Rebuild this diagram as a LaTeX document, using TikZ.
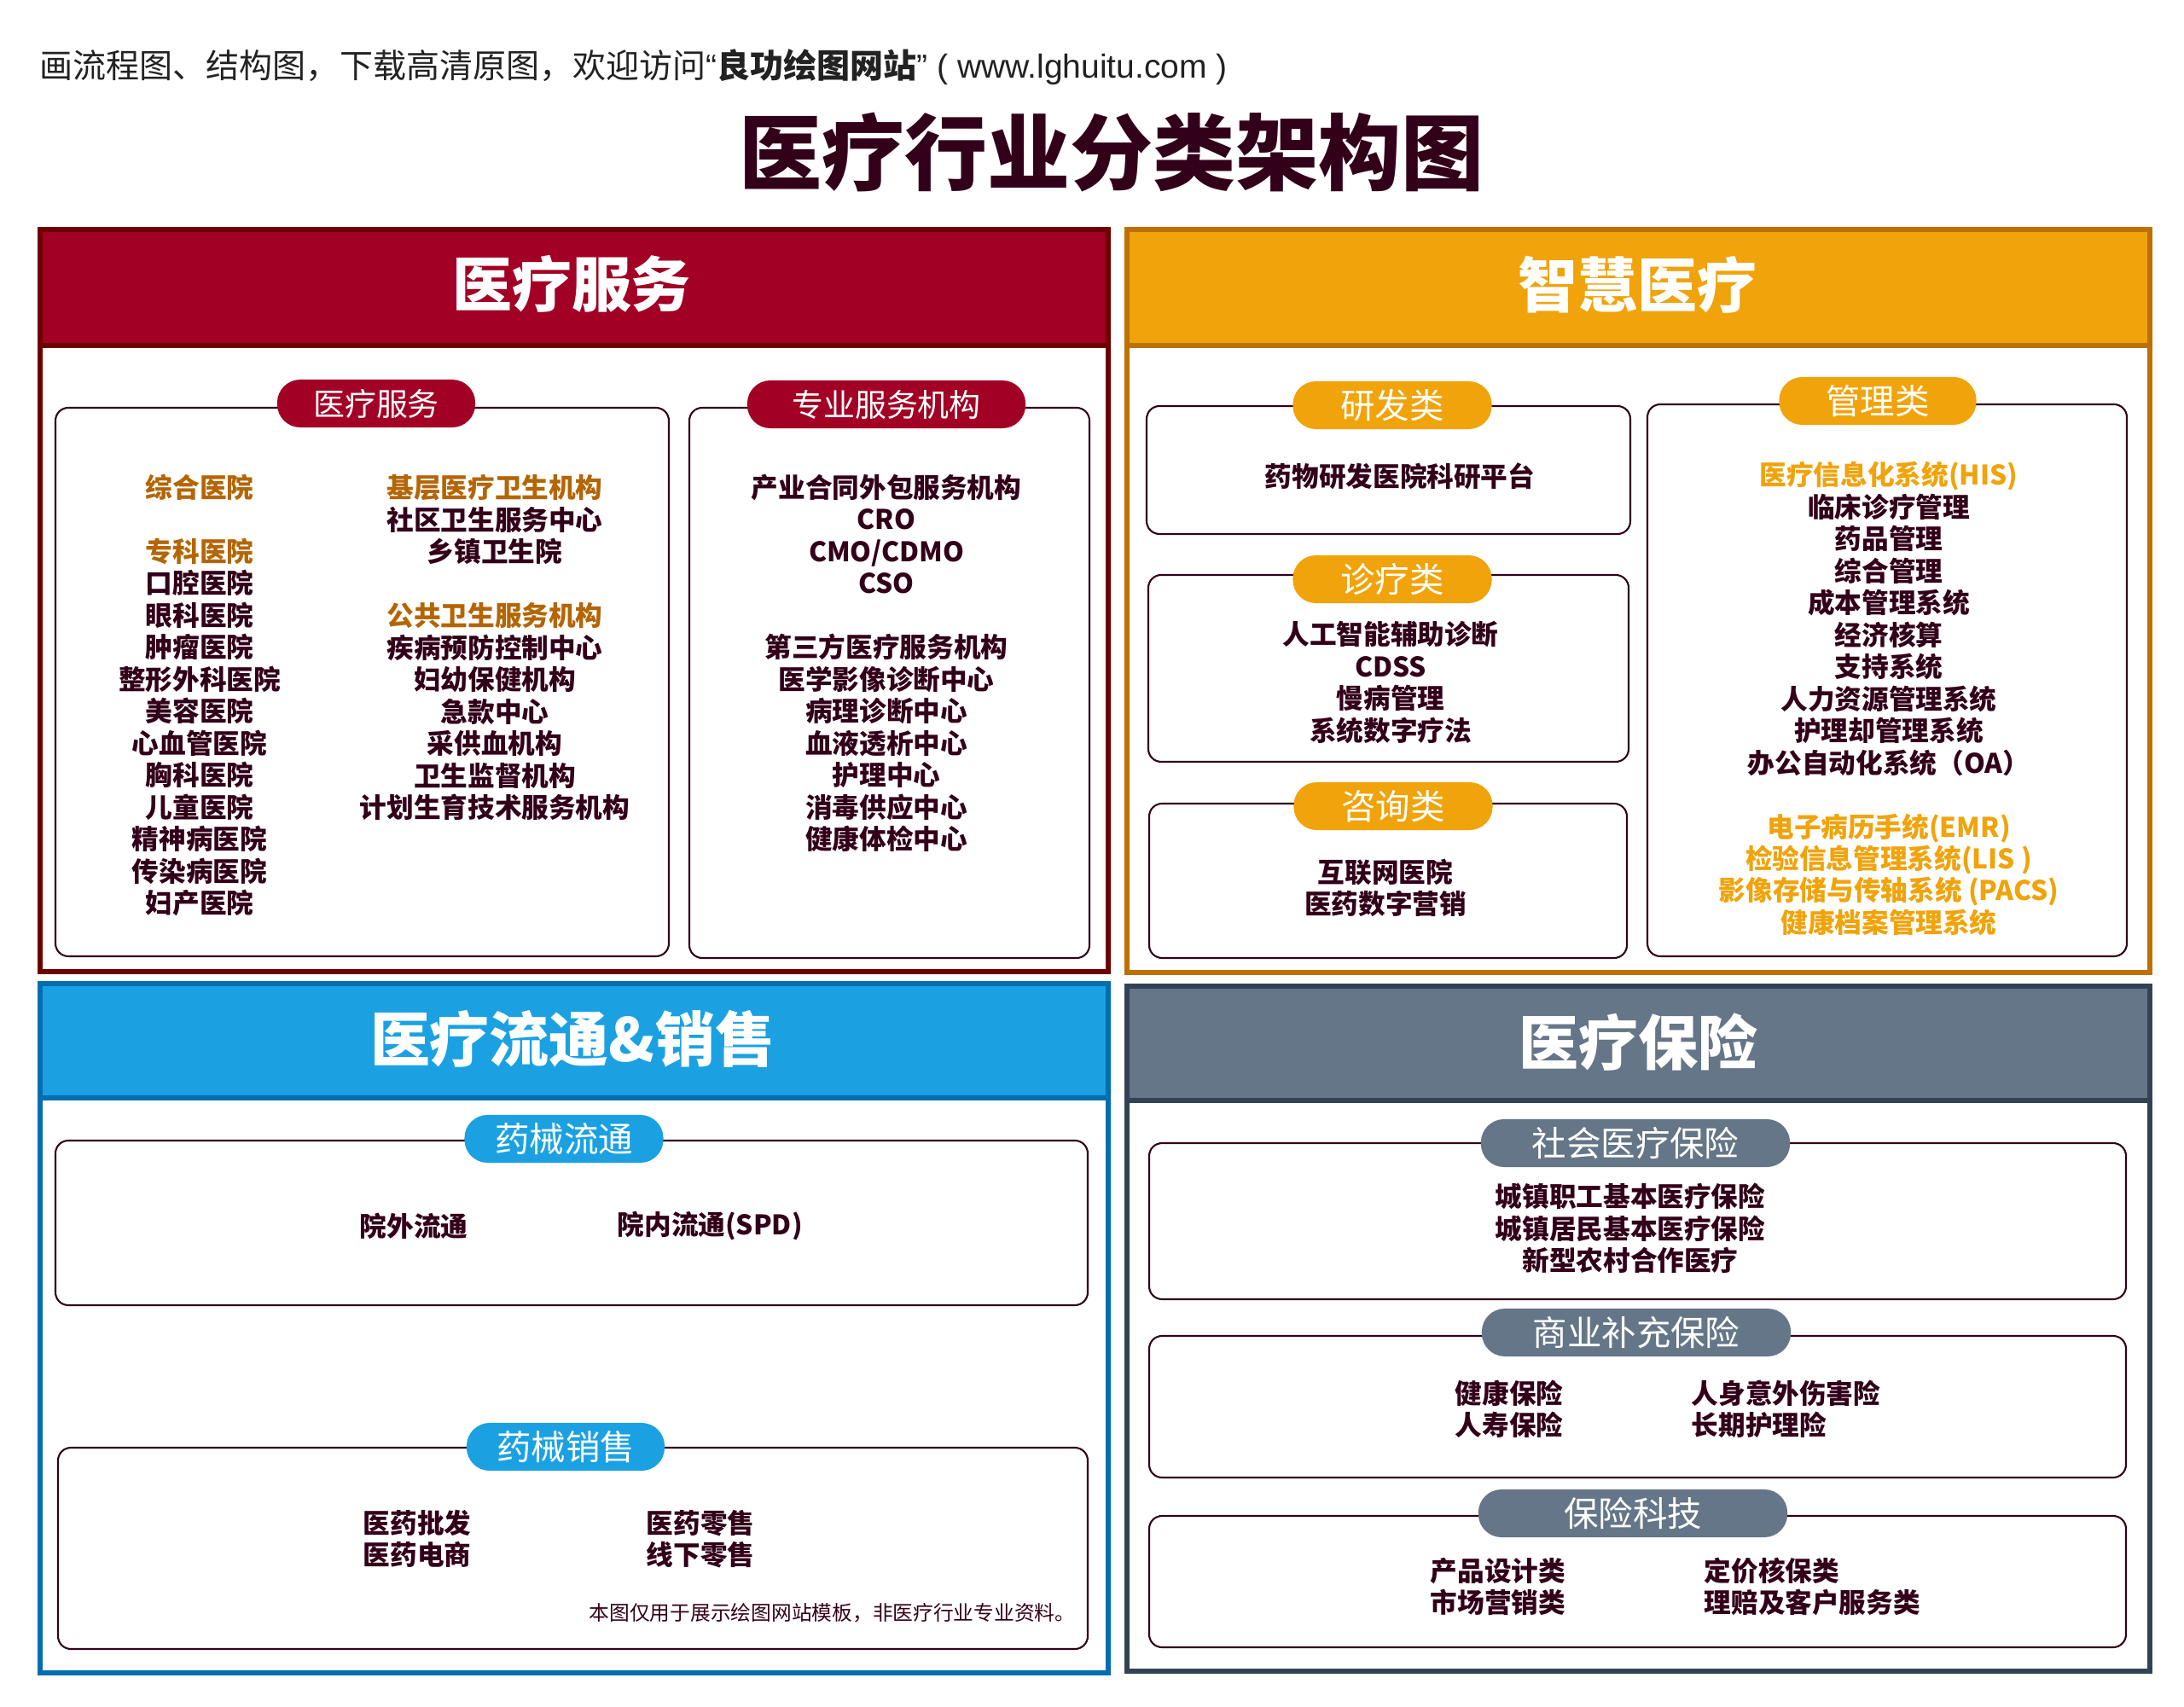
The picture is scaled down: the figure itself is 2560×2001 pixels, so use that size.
\documentclass[tikz,border=0pt]{standalone}
\usepackage{fontspec}
\setmainfont{Noto Sans CJK SC}
\newfontfamily\latinf{Liberation Sans}
\definecolor{ink}{HTML}{33001A}
\definecolor{capink}{HTML}{222222}
\definecolor{redfill}{HTML}{A20025}
\definecolor{redline}{HTML}{6F0000}
\definecolor{orgfill}{HTML}{F0A30A}
\definecolor{orgline}{HTML}{BD7000}
\definecolor{bluefill}{HTML}{1BA1E2}
\definecolor{blueline}{HTML}{006EAF}
\definecolor{slatefill}{HTML}{647687}
\definecolor{slateline}{HTML}{314354}
\definecolor{darkorg}{HTML}{B46504}
\definecolor{brightorg}{HTML}{F0A30A}
\tikzset{
  panelbody/.style={draw=#1, line width=1.7pt, fill=white},
  panelhead/.style={draw=#1, line width=1.7pt},
  headtitle/.style={text=white, font=\bfseries\fontsize{19.9}{22}\selectfont, inner sep=0pt},
  innerbox/.style={draw=ink, line width=0.6pt, rounded corners=4.3pt},
  pill/.style={fill=#1, rounded corners=0.27cm, minimum height=0.56cm, text=white,
    font=\fontsize{11.5}{13}\selectfont, inner sep=0pt},
  redpill/.style={pill=redfill, font=\fontsize{10.5}{12}\selectfont},
  body/.style={text=ink, font=\bfseries\fontsize{9}{10.66}\selectfont, align=center, inner sep=0pt},
  bodyl/.style={text=ink, font=\bfseries\fontsize{9}{10.66}\selectfont, align=left, inner sep=0pt, anchor=west},
}
\newcommand{\dorg}[1]{\textcolor{darkorg}{#1}}
\newcommand{\borg}[1]{\textcolor{brightorg}{#1}}
\begin{document}
\begin{tikzpicture}[x=0.01cm,y=-0.01cm]
\useasboundingbox (0,0) rectangle (2560,2001);
\fill[white] (0,0) rectangle (2560,2001);

% caption and title
\node[anchor=west, text=capink, font=\fontsize{11.1}{13}\selectfont, inner sep=0pt] (caption) at (46,79)
  {画流程图、结构图，下载高清原图，欢迎访问{\latinf “}\textbf{良功绘图网站}{\latinf ”\ ( www.lghuitu.com )}};
\node[text=ink, font=\bfseries\fontsize{27.6}{30}\selectfont, inner sep=0pt] (title) at (1303,178) {医疗行业分类架构图};

% ---------- panel 1: 医疗服务 ----------
\draw[panelbody=redline] (47,405) rectangle (1299,1139);
\draw[panelhead=redline, fill=redfill] (47,269) rectangle (1299,405);
\node[headtitle] (h1) at (670,333) {医疗服务};

\draw[innerbox] (65,478) rectangle (784,1121);
\draw[innerbox] (808,478) rectangle (1277,1123);
\node[redpill, minimum width=2.32cm] (p11) at (441,473) {医疗服务};
\node[redpill, minimum width=3.26cm] (p12) at (1039,474) {专业服务机构};

\node[body] (c11) at (234,815) {\dorg{综合医院}\\[10.66pt]\dorg{专科医院}\\口腔医院\\眼科医院\\肿瘤医院\\整形外科医院\\美容医院\\心血管医院\\胸科医院\\儿童医院\\精神病医院\\传染病医院\\妇产医院};
\node[body] (c12) at (580,759) {\dorg{基层医疗卫生机构}\\社区卫生服务中心\\乡镇卫生院\\[10.66pt]\dorg{公共卫生服务机构}\\疾病预防控制中心\\妇幼保健机构\\急款中心\\采供血机构\\卫生监督机构\\计划生育技术服务机构};
\node[body] (c13) at (1039,777.5) {产业合同外包服务机构\\CRO\\CMO/CDMO\\CSO\\[10.66pt]第三方医疗服务机构\\医学影像诊断中心\\病理诊断中心\\血液透析中心\\护理中心\\消毒供应中心\\健康体检中心};

% ---------- panel 2: 智慧医疗 ----------
\draw[panelbody=orgline] (1321,405) rectangle (2520,1140);
\draw[panelhead=orgline, fill=orgfill] (1321,269) rectangle (2520,405);
\node[headtitle] (h2) at (1919,334) {智慧医疗};

\draw[innerbox] (1344,476) rectangle (1911,626);
\draw[innerbox] (1346,674) rectangle (1909,893);
\draw[innerbox] (1347,942) rectangle (1907,1123);
\draw[innerbox] (1931,474) rectangle (2493,1121);
\node[pill=orgfill, minimum width=2.33cm] (p21) at (1632,475) {研发类};
\node[pill=orgfill, minimum width=2.33cm] (p22) at (1632,679) {诊疗类};
\node[pill=orgfill, minimum width=2.33cm] (p23) at (1633,945) {咨询类};
\node[pill=orgfill, minimum width=2.31cm] (p24) at (2201,470) {管理类};

\node[body] (c21) at (1641,558) {药物研发医院科研平台};
\node[body] (c22) at (1630,800) {人工智能辅助诊断\\CDSS\\慢病管理\\系统数字疗法};
\node[body] (c23) at (1624,1041) {互联网医院\\医药数字营销};
\node[body] (c24) at (2214,819) {\borg{医疗信息化系统(HIS)}\\临床诊疗管理\\药品管理\\综合管理\\成本管理系统\\经济核算\\支持系统\\人力资源管理系统\\护理却管理系统\\办公自动化系统（OA）\\[10.66pt]\borg{电子病历手统(EMR)}\\\borg{检验信息管理系统(LIS )}\\\borg{影像存储与传轴系统 (PACS)}\\\borg{健康档案管理系统}};

% ---------- panel 3: 医疗流通&销售 ----------
\draw[panelbody=blueline] (47,1287) rectangle (1299,1961);
\draw[panelhead=blueline, fill=bluefill] (47,1153) rectangle (1299,1287);
\node[headtitle] (h3) at (671,1218) {医疗流通\&销售};

\draw[innerbox] (65,1337) rectangle (1275,1530);
\draw[innerbox] (68,1697) rectangle (1275,1933);
\node[pill=bluefill, minimum width=2.33cm] (p31) at (661,1335) {药械流通};
\node[pill=bluefill, minimum width=2.32cm] (p32) at (663,1696) {药械销售};

\node[body] (c31) at (485,1437) {院外流通};
\node[bodyl] (c32) at (723,1437) {院内流通(SPD)};
\node[bodyl] (c33) at (425,1804) {医药批发\\医药电商};
\node[bodyl] (c34) at (757,1804) {医药零售\\线下零售};
\node[anchor=west, text=ink, font=\fontsize{6.75}{8}\selectfont, inner sep=0pt] (note) at (690,1891) {本图仅用于展示绘图网站模板，非医疗行业专业资料。};

% ---------- panel 4: 医疗保险 ----------
\draw[panelbody=slateline] (1321,1290) rectangle (2520,1959);
\draw[panelhead=slateline, fill=slatefill] (1321,1156) rectangle (2520,1290);
\node[headtitle] (h4) at (1920,1221) {医疗保险};

\draw[innerbox] (1347,1340) rectangle (2492,1523);
\draw[innerbox] (1347,1566) rectangle (2492,1732);
\draw[innerbox] (1347,1777) rectangle (2492,1931);
\node[pill=slatefill, minimum width=3.62cm] (p41) at (1917,1340) {社会医疗保险};
\node[pill=slatefill, minimum width=3.62cm] (p42) at (1918,1562) {商业补充保险};
\node[pill=slatefill, minimum width=3.62cm] (p43) at (1914,1774) {保险科技};

\node[body] (c41) at (1911,1440) {城镇职工基本医疗保险\\城镇居民基本医疗保险\\新型农村合作医疗};
\node[bodyl] (c42) at (1705,1652) {健康保险\\人寿保险};
\node[bodyl] (c43) at (1982,1652) {人身意外伤害险\\长期护理险};
\node[bodyl] (c44) at (1676,1860) {产品设计类\\市场营销类};
\node[bodyl] (c45) at (1997,1860) {定价核保类\\理赔及客户服务类};
\end{tikzpicture}
\end{document}
